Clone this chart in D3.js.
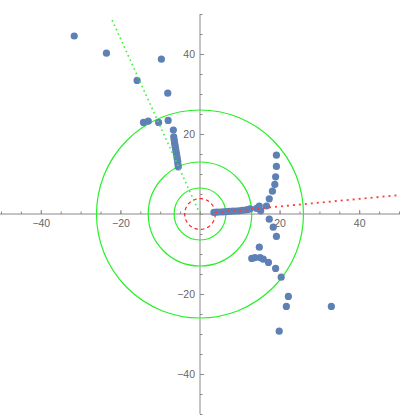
<!DOCTYPE html>
<html><head><meta charset="utf-8">
<script src="https://cdn.jsdelivr.net/npm/d3@7"></script>
<style>body{margin:0;background:#fff}svg{display:block}</style>
</head><body>
<script>
// ---- data ----
const points = [
  [-31.6,44.5],[-23.5,40.2],[-9.7,38.7],[-15.8,33.4],[-8.1,30.2],
  [-14.2,22.9],[-13.0,23.2],[-10.4,22.9],[-8.0,23.4],[-6.7,21.0],
  [-6.6,19.3],[-6.5,18.6],[-6.4,17.9],[-6.3,17.3],[-6.2,16.7],[-6.1,16.1],
  [-6.0,15.5],[-5.9,14.9],[-5.8,14.3],[-5.7,13.7],[-5.6,13.1],[-5.55,12.5],[-5.45,11.8],
  [19.2,14.7],[19.2,11.9],[19.0,9.3],[18.8,7.4],[18.2,5.7],[17.4,3.8],[16.7,2.0],[14.9,2.0],[15.25,0.8],
  [3.5,0.4],[4.2,0.45],[5.0,0.5],[5.8,0.55],[6.6,0.6],[7.4,0.65],[8.2,0.7],[9.0,0.75],
  [9.8,0.8],[10.6,0.9],[11.4,1.0],[12.0,1.1],[12.6,1.3],[14.2,1.4],
  [17.4,-1.3],[18.4,-3.3],[19.2,-5.6],[14.9,-8.3],[13.0,-11.1],[13.8,-10.9],[15.1,-10.9],
  [15.9,-11.3],[17.2,-12.1],[19.0,-13.6],[20.4,-15.8],[22.2,-20.6],[21.7,-23.1],[33.0,-23.1],[19.9,-29.3]
];
const greenRadii = [6.5, 13, 26];
const redRadius = 3.85;
const redRay = {angle: 5.4, from: 3.85, to: 60};
const greenRay = {angle: 114.5, from: 0, to: 54};
const majorTicks = [-40,-20,20,40];
const minorTicks = d3.range(-50, 51, 5);

// ---- chart ----
const W = 400, H = 415;
const x = d3.scaleLinear([-50, 50], [1, 399]);
const y = d3.scaleLinear([-50, 50], [414, 14]);
const kx = x(1) - x(0), ky = y(0) - y(1);

const svg = d3.select("body").append("svg").attr("width", W).attr("height", H);
const font = "'Liberation Sans', Arial, sans-serif";

// axes
const gx = svg.append("g").attr("transform", `translate(0,${y(0)})`);
gx.call(d3.axisBottom(x).tickValues(minorTicks).tickSize(-2.5).tickFormat(""));
gx.call(g => g.select(".domain").remove());
const gx2 = svg.append("g").attr("transform", `translate(0,${y(0)})`);
gx2.call(d3.axisBottom(x).tickValues(majorTicks).tickSize(-4).tickPadding(6));
gx2.select(".domain").attr("d", `M0,0H${W}`);

const gy = svg.append("g").attr("transform", `translate(${x(0)},0)`);
gy.call(d3.axisLeft(y).tickValues(minorTicks).tickSize(-2.5).tickFormat(""));
gy.call(g => g.select(".domain").remove());
const gy2 = svg.append("g").attr("transform", `translate(${x(0)},0)`);
gy2.call(d3.axisLeft(y).tickValues(majorTicks).tickSize(-4).tickPadding(5));
gy2.select(".domain").attr("d", `M0,${y(50)}V${y(-50)}`);

svg.selectAll(".domain, .tick line").attr("stroke", "#8a8a8a");
svg.selectAll(".tick text").attr("fill", "#666").style("font-size", "10.5px").style("font-family", font);

const clip = svg.append("clipPath").attr("id", "c").append("rect").attr("x", 0).attr("y", 0).attr("width", W).attr("height", H);
const plot = svg.append("g").attr("clip-path", "url(#c)");

// green circles
plot.selectAll("ellipse.g").data(greenRadii).join("ellipse")
  .attr("cx", x(0)).attr("cy", y(0))
  .attr("rx", d => d * kx).attr("ry", d => d * ky)
  .attr("fill", "none").attr("stroke", "rgb(40,240,40)").attr("stroke-width", 1.2);

// red dashed circle
plot.append("ellipse")
  .attr("cx", x(0)).attr("cy", y(0))
  .attr("rx", redRadius * kx).attr("ry", redRadius * ky)
  .attr("fill", "none").attr("stroke", "rgb(255,30,30)").attr("stroke-width", 1.2)
  .attr("stroke-dasharray", "3.5,3");

// points
plot.selectAll("circle.p").data(points).join("circle")
  .attr("cx", d => x(d[0])).attr("cy", d => y(d[1])).attr("r", 3.6)
  .attr("fill", "#5E81B5");

// rays
function ray(r, color, dash, width) {
  const a = r.angle * Math.PI / 180;
  plot.append("line")
    .attr("x1", x(r.from * Math.cos(a))).attr("y1", y(r.from * Math.sin(a)))
    .attr("x2", x(r.to * Math.cos(a))).attr("y2", y(r.to * Math.sin(a)))
    .attr("stroke", color).attr("stroke-width", width).attr("stroke-dasharray", dash);
}
ray(redRay, "rgb(255,60,60)", "2,4", 1.8);
ray(greenRay, "rgb(60,240,60)", "1.6,3.2", 1.6);
</script>
</body></html>
